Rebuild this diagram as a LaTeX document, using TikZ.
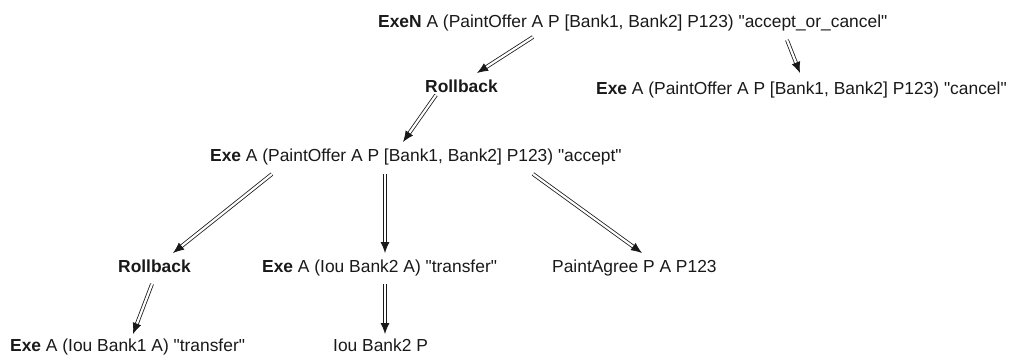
\documentclass[tikz,border=0pt]{standalone}
\usepackage{fontspec}
\setmainfont[Ligatures=TeXOff]{Liberation Sans}
\usetikzlibrary{arrows.meta,calc}
\newcommand{\myq}{\symbol{34}}
\begin{document}
\begin{tikzpicture}[x=1pt,y=-1pt,
  lbl/.style={anchor=base west,inner sep=0pt,font=\fontsize{17.4}{20}\selectfont,text=black!90},
  dbl/.style={draw=black!90,double=white,double distance=2.2pt,line width=0.8pt,-{Latex[length=11pt,width=9pt]}}]
\useasboundingbox (0,0) rectangle (1013,354);
\node[lbl] (top) at (378,27) {\textbf{ExeN} A (PaintOffer A P [Bank1, Bank2] P123) \myq accept\_or\_cancel\myq};
\node[lbl] (rb1) at (425,92) {\textbf{Rollback}};
\node[lbl] (cancel) at (596,94) {\textbf{Exe} A (PaintOffer A P [Bank1, Bank2] P123) \myq cancel\myq};
\node[lbl] (acc) at (210,161) {\textbf{Exe} A (PaintOffer A P [Bank1, Bank2] P123) \myq accept\myq};
\node[lbl] (rb2) at (118,272) {\textbf{Rollback}};
\node[lbl] (iou2a) at (262,272) {\textbf{Exe} A (Iou Bank2 A) \myq transfer\myq};
\node[lbl] (agree) at (552,272) {PaintAgree P A P123};
\node[lbl] (iou1) at (10,351) {\textbf{Exe} A (Iou Bank1 A) \myq transfer\myq};
\node[lbl] (iou2p) at (333,351) {Iou Bank2 P};
\draw[dbl] ($(top.base west)+(155,10)$) -- ($(rb1.base west)+(52,-19)$);
\draw[dbl] ($(top.base west)+(409,13)$) -- ($(cancel.base west)+(204,-21)$);
\draw[dbl] ($(rb1.base west)+(11,3)$) -- ($(acc.base west)+(193,-19)$);
\draw[dbl] ($(acc.base west)+(62,13)$) -- ($(rb2.base west)+(55,-19)$);
\draw[dbl] ($(acc.base west)+(175,13)$) -- ($(iou2a.base west)+(123,-19)$);
\draw[dbl] ($(acc.base west)+(323,13)$) -- ($(agree.base west)+(90,-19)$);
\draw[dbl] ($(rb2.base west)+(34,12)$) -- ($(iou1.base west)+(123,-17)$);
\draw[dbl] ($(iou2a.base west)+(123,12)$) -- ($(iou2p.base west)+(52,-17)$);
\end{tikzpicture}
\end{document}
